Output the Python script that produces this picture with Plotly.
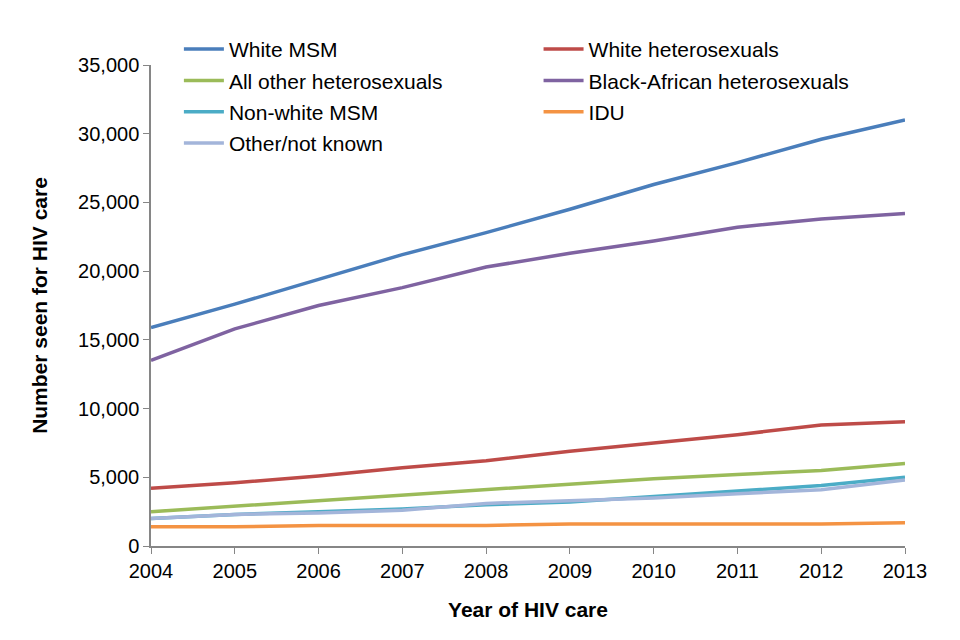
import plotly.graph_objects as go

years = [2004, 2005, 2006, 2007, 2008, 2009, 2010, 2011, 2012, 2013]
white_msm = [15900, 17600, 19400, 21200, 22800, 24500, 26300, 27900, 29600, 31000]
white_het = [4200, 4600, 5100, 5700, 6200, 6900, 7500, 8100, 8800, 9050]
other_het = [2500, 2900, 3300, 3700, 4100, 4500, 4900, 5200, 5500, 6000]
black_af_het = [13500, 15800, 17500, 18800, 20300, 21300, 22200, 23200, 23800, 24200]
nonwhite_msm = [2000, 2300, 2500, 2700, 3000, 3200, 3600, 4000, 4400, 5000]
idu = [1400, 1400, 1500, 1500, 1500, 1600, 1600, 1600, 1600, 1700]
other_unknown = [2000, 2300, 2400, 2600, 3100, 3300, 3500, 3800, 4100, 4800]

series = [
    ("White MSM", white_msm, "#4A7EBB", "legend"),
    ("All other heterosexuals", other_het, "#9BBB59", "legend"),
    ("Non-white MSM", nonwhite_msm, "#4BACC6", "legend"),
    ("Other/not known", other_unknown, "#A3B5DA", "legend"),
    ("White heterosexuals", white_het, "#BE4B48", "legend2"),
    ("Black-African heterosexuals", black_af_het, "#7F63A1", "legend2"),
    ("IDU", idu, "#F49343", "legend2"),
]

fig = go.Figure()
for name, vals, color, lg in series:
    fig.add_trace(go.Scatter(
        x=years, y=vals, name=name, mode="lines",
        line=dict(color=color, width=3.5),
        legend=lg, legendgroup=name,
    ))

font_family = "Liberation Sans, Arial, sans-serif"
legend_common = dict(
    font=dict(family=font_family, size=21, color="#000000"),
    bgcolor="rgba(0,0,0,0)",
    xanchor="left", yanchor="top",
    tracegroupgap=1,
    itemwidth=40,
)

fig.update_layout(
    width=960, height=640,
    margin=dict(l=143, r=63, t=57, b=102),
    paper_bgcolor="white", plot_bgcolor="white",
    font=dict(family=font_family, size=20, color="#000000"),
    legend=dict(x=0.037, y=1.075, **legend_common),
    legend2=dict(x=0.514, y=1.075, **legend_common),
    xaxis=dict(
        range=[2004, 2013],
        tickmode="array", tickvals=years, ticktext=[str(y) for y in years],
        showgrid=False, zeroline=False,
        showline=True, linecolor="#868686", linewidth=1.5,
        ticks="outside", ticklen=6, tickcolor="#868686",
        tickfont=dict(size=20),
        title=dict(text="<b>Year of HIV care</b>", font=dict(size=21), standoff=22),
    ),
    yaxis=dict(
        range=[0, 35000],
        tickvals=[0, 5000, 10000, 15000, 20000, 25000, 30000, 35000],
        tickformat=",",
        showgrid=False, zeroline=False,
        showline=True, linecolor="#868686", linewidth=1.5,
        ticks="outside", ticklen=6, tickcolor="#868686",
        tickfont=dict(size=20),
        title=dict(text="<b>Number seen for HIV care</b>", font=dict(size=21), standoff=25),
    ),
)

fig.write_html("out.html")
